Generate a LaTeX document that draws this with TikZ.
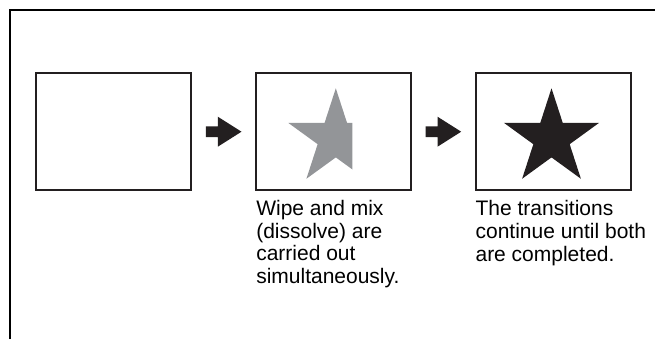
\documentclass[tikz,border=0pt]{standalone}
\usepackage{fontspec}
\setmainfont{Liberation Sans}
\usetikzlibrary{shapes.geometric,calc}
\definecolor{ink}{HTML}{231F20}
\definecolor{stargray}{HTML}{939598}
\begin{document}
\begin{tikzpicture}[x=0.75pt,y=-0.75pt,
  frameline/.style={line width=1.7pt, draw=black},
  screen/.style={draw=ink, line width=1.5pt, minimum width=116.5pt, minimum height=87.4pt, inner sep=0pt, outer sep=0pt},
  starshape/.style={star, star points=5, star point ratio=2.618, minimum size=75pt, inner sep=0pt, outer sep=0pt},
  caption/.style={anchor=base west, align=left, font=\fontsize{15.75pt}{16.9pt}\selectfont, inner sep=0pt},
  blockarrow/.style={fill=ink}]
\useasboundingbox (0,0) rectangle (655,339);
% frame
\draw[frameline] (10,339) -- (10,10) -- (655,10);
% screens
\node[screen] (b1) at (113.8,131.7) {};
\node[screen] (b2) at (333.8,131.7) {};
\node[screen] (b3) at (553.2,131.7) {};
% stars
\begin{scope}
  \clip (256,73) rectangle (352.3,190);
  \node[starshape, fill=stargray] (s2) at (335.8,138.3) {};
\end{scope}
\node[starshape, fill=ink] (s3) at (551.5,138.3) {};
% block arrows
\coordinate (m1) at ($(b1.east)!0.5!(b2.west)$);
\coordinate (m2) at ($(b2.east)!0.5!(b3.west)$);
\foreach \m in {m1,m2}{
  \fill[blockarrow] (\m) ++(-18,-5.3) -- ++(12,0) -- ++(0,-9.7) -- ++(23.7,15) -- ++(-23.7,15) -- ++(0,-9.7) -- ++(-12,0) -- cycle;
}
% captions (base anchor = baseline of the last line)
\node[caption] (c2) at (256,283.5) {Wipe and mix\\(dissolve) are\\carried out\\simultaneously.};
\node[caption] (c3) at (475.3,261) {The transitions\\continue until both\\are completed.};
\end{tikzpicture}
\end{document}
